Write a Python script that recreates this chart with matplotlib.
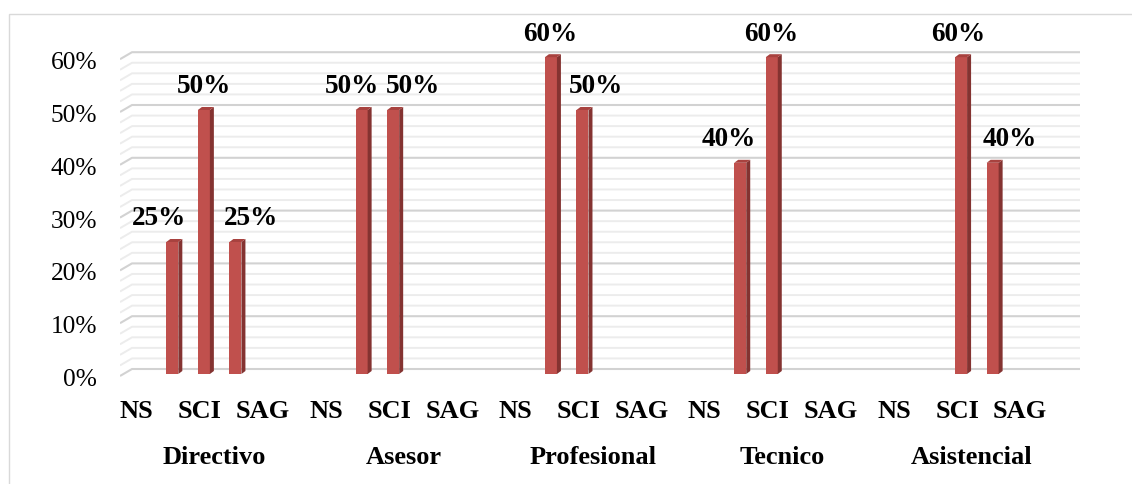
import matplotlib
matplotlib.use("Agg")
import matplotlib.pyplot as plt  # noqa: E402
from matplotlib.patches import Polygon, Rectangle  # noqa: E402

groups = ["Directivo", "Asesor", "Profesional", "Tecnico", "Asistencial"]
levels = ["NS", "SCI", "SAG"]
# two series per level, flattened group by group (NS, SCI, SAG)
serie_a = [0, 50, 0, 0, 50, 0, 0, 50, 0, 0, 60, 0, 0, 60, 0]
serie_b = [25, 25, 0, 50, 0, 0, 60, 0, 0, 40, 0, 0, 0, 40, 0]
yticks = [0, 10, 20, 30, 40, 50, 60]

# horizontal nudges (px) for the data labels, left to right
label_nudge = [-13, 0, 16, -10, 20, -1, 13, -11, -1, -3, 17]

W, H = 1132, 485
SLOT = 31.55  # px per category slot
PCT = 5.28    # px per percent
PT = 72 / 100  # px -> points

plt.rcParams["font.family"] = ["Liberation Serif", "DejaVu Serif"]

fig = plt.figure(figsize=(W / 100, H / 100), dpi=100)
fig.patch.set_facecolor("white")
ax = fig.add_axes([120 / W, 100 / H, 960 / W, 345 / H])
ax.axis("off")
xmax = -0.5 + 960 / SLOT
ax.set_xlim(-0.5, xmax)
ax.set_ylim(-8 / PCT, 337 / PCT)

# outer chart border (cut off at right and bottom)
fig.add_artist(Rectangle((8.5 / W, -0.1), 2, (H - 14.5) / H + 0.1,
                         transform=fig.transFigure, fill=False,
                         edgecolor="#d9d9d9", lw=1))

# 3D-ish gridlines: short diagonal on the side wall, then the back wall
back_dx = 12 / SLOT
back_dy = 7 / PCT
for v in range(0, 61, 2):
    major = v % 10 == 0
    ax.plot([-0.5, -0.5 + back_dx, xmax], [v, v + back_dy, v + back_dy],
            color="#d2d2d2" if major else "#ececec",
            lw=1.5 if major else 1.4, zorder=1, solid_capstyle="butt")

for v in yticks:
    ax.text(-0.5 - 23 / SLOT, v - 9 / PCT, f"{v}%", ha="right",
            va="baseline", fontsize=18.3, clip_on=False)

# bars
bw = 12 / SLOT
base = 2 / PCT
dx, dy = 4 / SLOT, 3 / PCT
bars = []
for i, (a, b) in enumerate(zip(serie_a, serie_b)):
    g, k = divmod(i, len(levels))
    for s, val in enumerate((a, b)):
        if val:
            bars.append((g * 6 + 2 * k + s + 5 / SLOT, val))
bars.sort()
xs = [x for x, _ in bars]
vals = [v for _, v in bars]
ax.bar(xs, vals, width=bw, bottom=base, color="#c0504d", lw=0, zorder=3)
for x, v in bars:
    r, l, t = x + bw / 2, x - bw / 2, base + v
    ax.add_patch(Polygon([(r, base), (r + dx, base + dy), (r + dx, t + dy), (r, t)],
                         closed=True, color="#843331", lw=0, zorder=3))
    ax.add_patch(Polygon([(l, t), (l + dx, t + dy), (r + dx, t + dy), (r, t)],
                         closed=True, color="#a8423f", lw=0, zorder=3))

for (x, v), nud in zip(bars, label_nudge):
    ax.annotate(f"{v}%", (x, base + v), xytext=(nud * PT, 17.5 * PT),
                textcoords="offset points", ha="center", va="baseline",
                fontsize=19.5, fontweight="bold", annotation_clip=False)

# category labels
for g, name in enumerate(groups):
    for k, lev in enumerate(levels):
        ax.text(g * 6 + 2 * k + 1 / SLOT, (377 - 418) / PCT, lev, ha="center",
                va="baseline", fontsize=19, fontweight="bold", clip_on=False)
    ax.text(g * 6 + 2.5, (377 - 463.5) / PCT, name, ha="center",
            va="baseline", fontsize=19, fontweight="bold", clip_on=False)

fig.savefig("out.png", dpi=100)
